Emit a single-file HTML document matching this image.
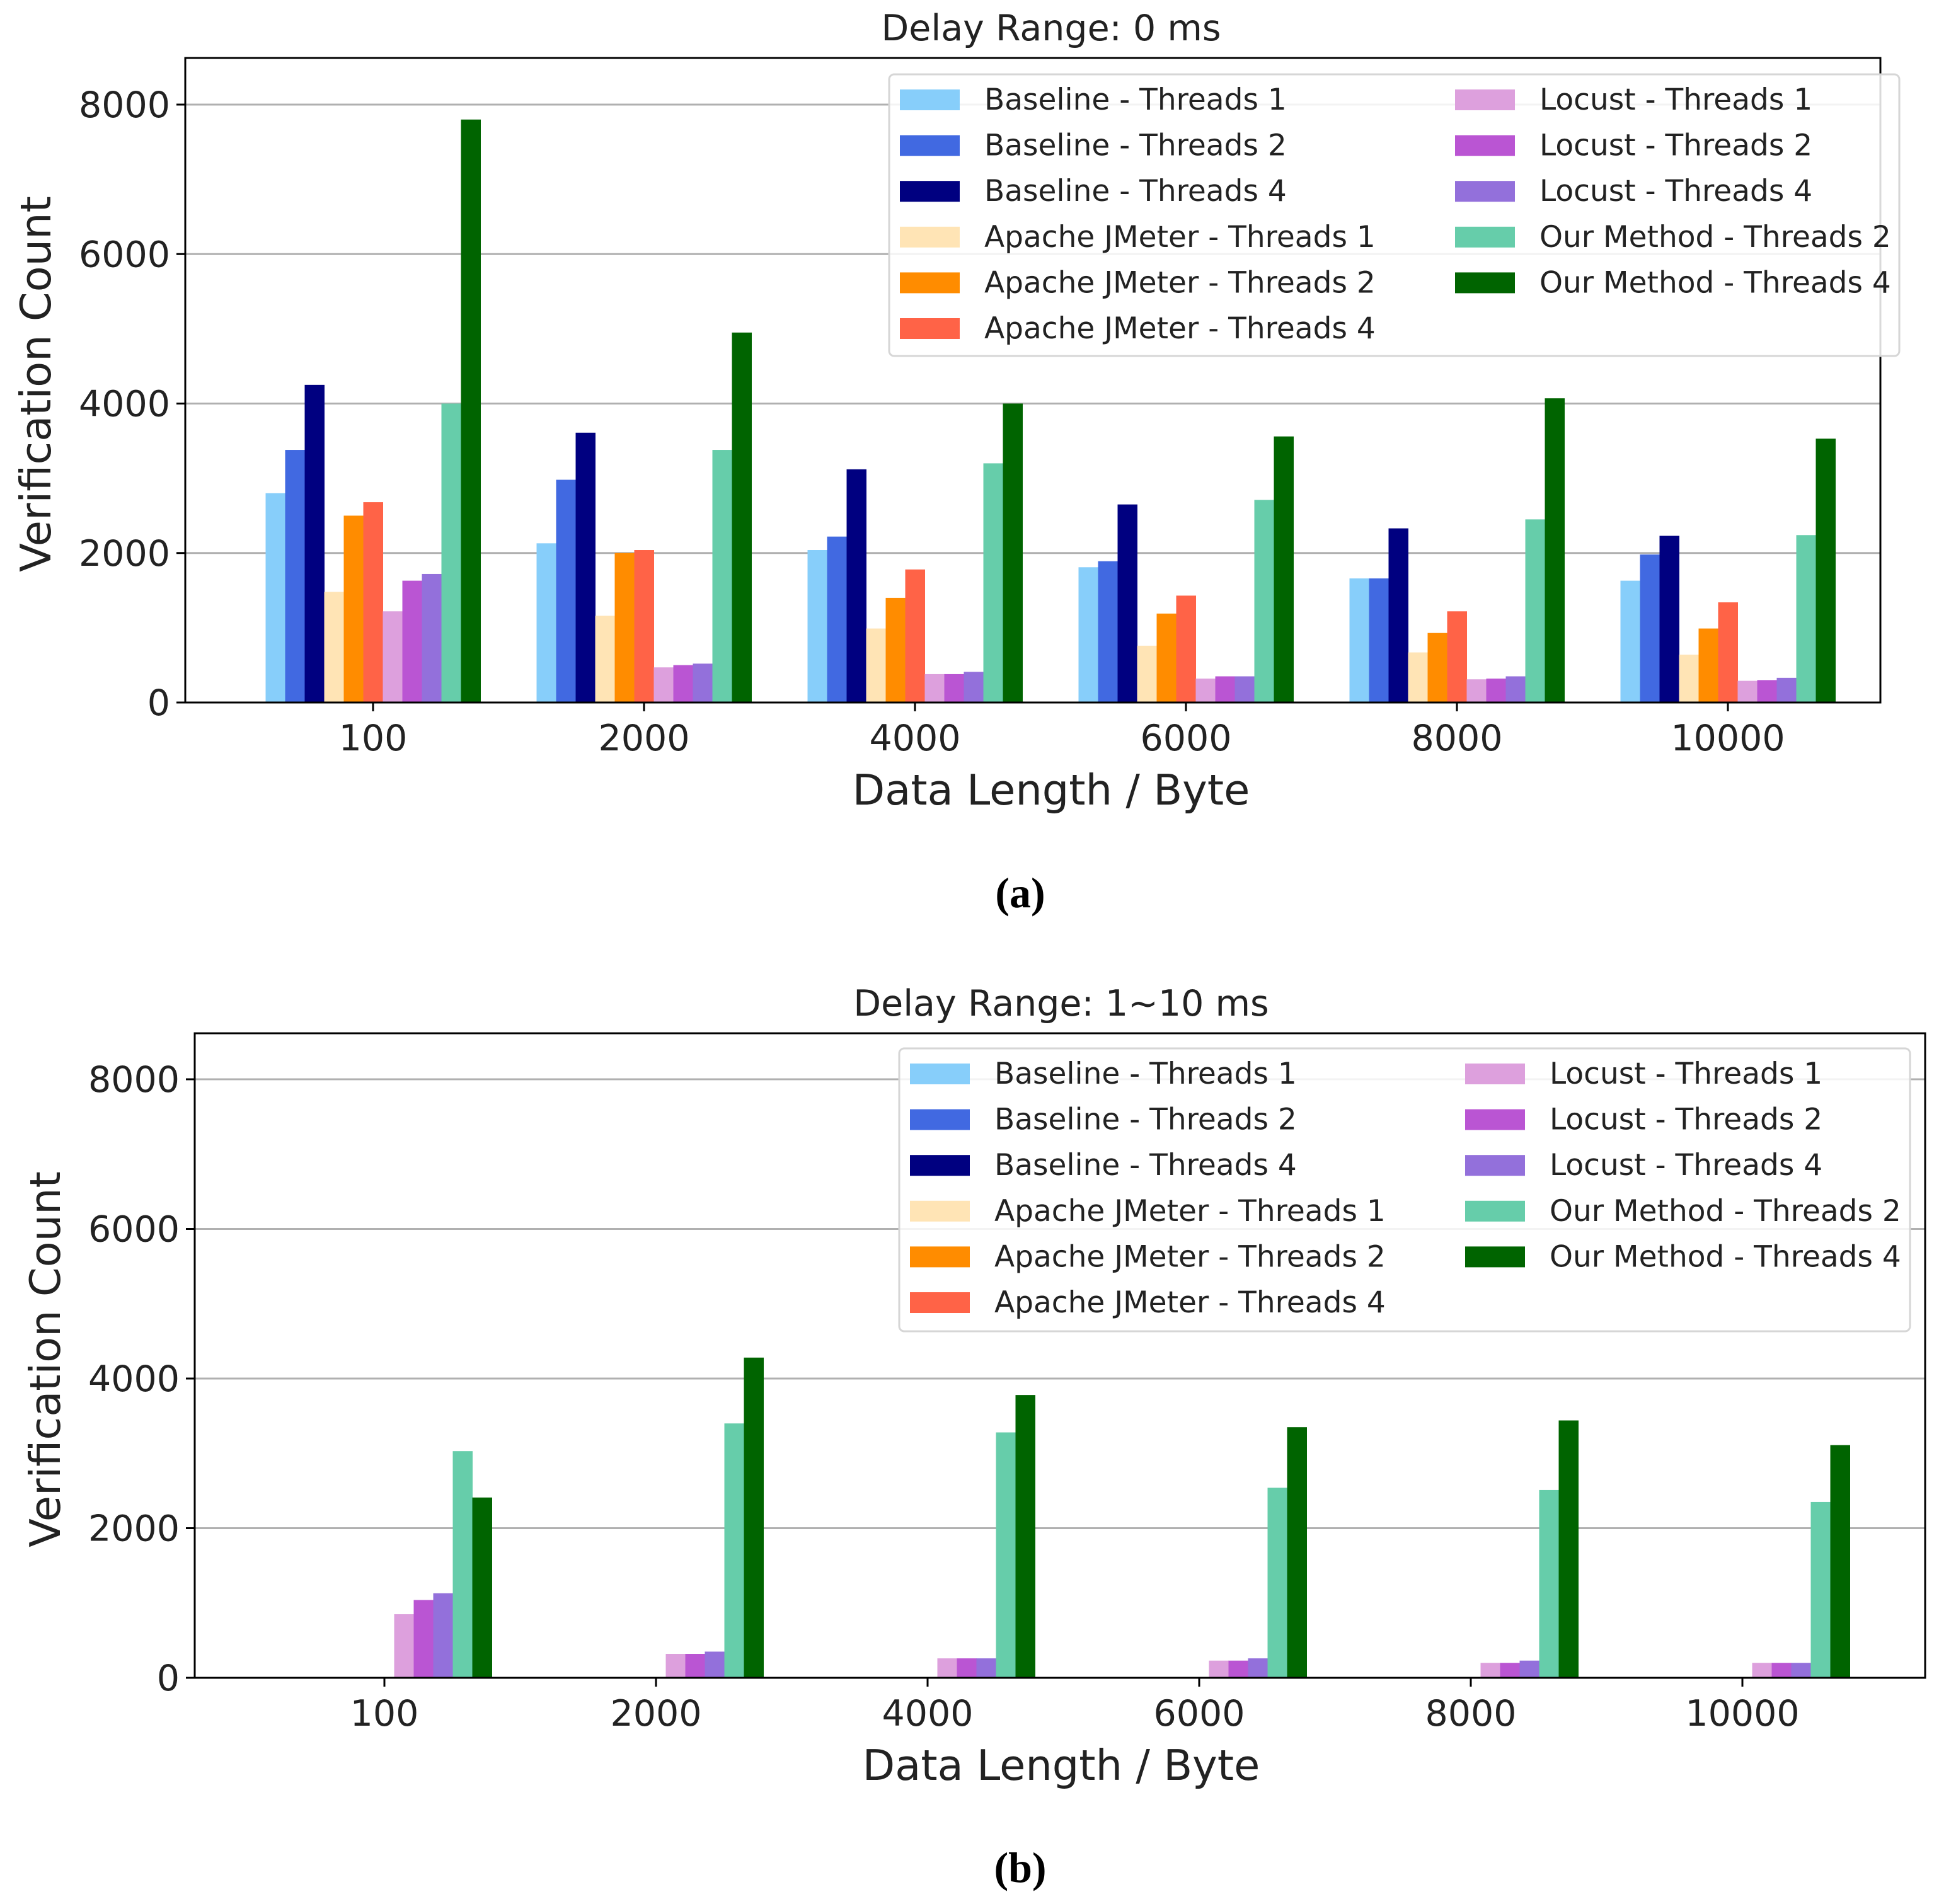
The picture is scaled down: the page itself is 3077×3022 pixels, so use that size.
<!DOCTYPE html>
<html><head><meta charset="utf-8"><style>
html,body{margin:0;padding:0;background:#fff}
svg{display:block;font-family:"DejaVu Sans","Liberation Sans",sans-serif}
</style></head><body>
<svg id="fig" width="3077" height="3022" viewBox="0 0 3077 3022" xmlns="http://www.w3.org/2000/svg"></svg>
<script>
const categories = ["100","2000","4000","6000","8000","10000"];
const seriesNames = ["Baseline - Threads 1","Baseline - Threads 2","Baseline - Threads 4","Apache JMeter - Threads 1","Apache JMeter - Threads 2","Apache JMeter - Threads 4","Locust - Threads 1","Locust - Threads 2","Locust - Threads 4","Our Method - Threads 2","Our Method - Threads 4"];
const seriesColors = ["#87cefa","#4169e1","#000080","#ffe4b5","#ff8c00","#ff6347","#dda0dd","#ba55d3","#9370db","#66cdaa","#006400"];
const yTicks = [0,2000,4000,6000,8000];
// chart (a): values per series, across categories
const valuesA = [
 [2800,2130,2040,1810,1660,1630],
 [3380,2980,2220,1890,1660,1980],
 [4250,3610,3120,2650,2330,2230],
 [1480,1160,990,760,670,640],
 [2500,2000,1400,1190,930,990],
 [2680,2040,1780,1430,1220,1340],
 [1220,470,380,320,310,290],
 [1630,500,380,350,320,300],
 [1720,520,410,350,350,330],
 [4000,3380,3200,2710,2450,2240],
 [7800,4950,4000,3560,4070,3530]
];
// chart (b)
const valuesB = [
 [0,0,0,0,0,0],
 [0,0,0,0,0,0],
 [0,0,0,0,0,0],
 [0,0,0,0,0,0],
 [0,0,0,0,0,0],
 [0,0,0,0,0,0],
 [850,320,260,230,200,200],
 [1040,320,260,230,200,200],
 [1130,350,260,260,230,200],
 [3030,3400,3280,2540,2510,2350],
 [2410,4280,3780,3350,3440,3110]
];
const NS="http://www.w3.org/2000/svg";
const svg=document.getElementById('fig');
function mk(tag,attrs,parent){const e=document.createElementNS(NS,tag);for(const k in attrs)e.setAttribute(k,attrs[k]);(parent||svg).appendChild(e);return e;}
function txt(s,attrs,parent){const e=mk('text',attrs,parent);e.textContent=s;return e;}

function drawChart(cfg){
  const g=mk('g',{});
  
  
  const L=cfg.left,R=cfg.right,T=cfg.top,B=cfg.bottom;
  const y=v=>B-(v/8000)*(B-cfg.y8000);
  const x=i=>cfg.x0+i*cfg.dx;
  yTicks.forEach(t=>{
    if(t>0){const gl=mk('line',{x1:L,x2:R,y1:y(t),y2:y(t),stroke:'#b0b0b0','stroke-width':3},g);
      }
    const tk=mk('line',{x1:L-14,x2:L,y1:y(t),y2:y(t),stroke:'#000','stroke-width':3},g);
    
    const lb=txt(String(t),{x:L-24,y:y(t)+20,'text-anchor':'end','font-size':57,fill:'#222'},g);
    
  });
  const bw=cfg.bw;
  cfg.values.forEach((ser,s)=>{
    ser.forEach((v,i)=>{
      if(v<=0)return;
      const bx=x(i)+(s-5.5)*bw;
      const r=mk('rect',{x:bx,y:y(v),width:bw+0.5,height:B-y(v),fill:seriesColors[s]},g);
      
      
    });
  });
  categories.forEach((c,i)=>{
    const tk=mk('line',{x1:x(i),x2:x(i),y1:B,y2:B+14,stroke:'#000','stroke-width':3},g);
    
    const lb=txt(c,{x:x(i),y:B+76,'text-anchor':'middle','font-size':57,fill:'#222'},g);
    
  });
  const fr=mk('rect',{x:L,y:T,width:R-L,height:B-T,fill:'none',stroke:'#000','stroke-width':3},g);
  
  const tt=txt(cfg.title,{x:cfg.cx,y:T-28,'text-anchor':'middle','font-size':57,fill:'#222'},g);
  
  const xl=txt('Data Length / Byte',{x:cfg.cx,y:B+162,'text-anchor':'middle','font-size':67,fill:'#222'},g);
  
  const yl=txt('Verification Count',{x:0,y:0,'text-anchor':'middle','font-size':67,fill:'#222',transform:`translate(${cfg.ylx},${(T+B)/2+6}) rotate(-90)`},g);
  
  const lg=mk('g',{},g);
  
  mk('rect',{x:cfg.lx,y:cfg.ly,width:cfg.lw,height:cfg.lh,rx:8,fill:'#fff','fill-opacity':0.85,stroke:'#d6d6d6','stroke-width':3},lg);
  seriesNames.forEach((n,s)=>{
    const col=s<6?0:1,row=s<6?s:s-6;
    const px=cfg.lx+17+col*881, py=cfg.ly+40+row*72.6;
    const it=mk('g',{},lg);
    
    
    mk('rect',{x:px,y:py-16,width:95,height:33,fill:seriesColors[s]},it);
    txt(n,{x:px+134,y:py+16,'font-size':47,fill:'#222'},it);
  });
}
drawChart({id:'a',name:'chart-a',title:'Delay Range: 0 ms',left:294,right:2984,top:92,bottom:1115,y8000:166,x0:592,dx:430,bw:31,values:valuesA,ylx:80,cx:1668,lx:1411,ly:118,lw:1603,lh:447});
drawChart({id:'b',name:'chart-b',title:'Delay Range: 1~10 ms',left:309,right:3055,top:1640,bottom:2663,y8000:1713,x0:610,dx:431,bw:31,values:valuesB,ylx:95,cx:1684,lx:1427,ly:1664,lw:1604,lh:449});
const ca=txt('(a)',{x:1619,y:1440,'text-anchor':'middle','font-size':68,'font-weight':'bold','font-family':'"Liberation Serif",serif',fill:'#000'});

const cb=txt('(b)',{x:1619,y:2987,'text-anchor':'middle','font-size':68,'font-weight':'bold','font-family':'"Liberation Serif",serif',fill:'#000'});

</script>
</body></html>
